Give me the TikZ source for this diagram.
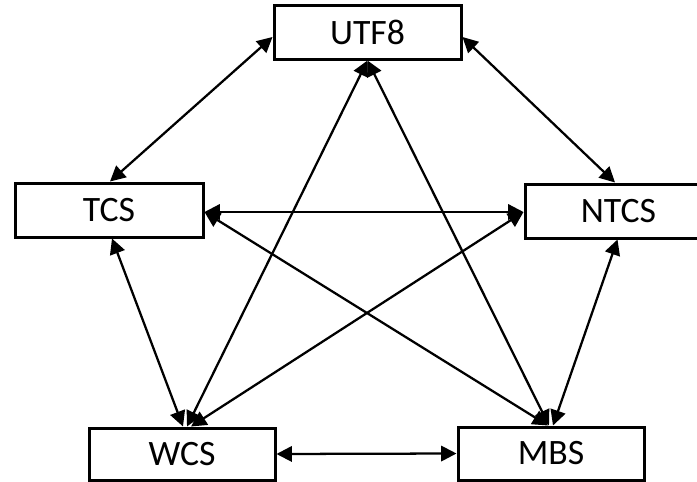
\documentclass[tikz,border=0pt]{standalone}
\usepackage{fontspec}
\setmainfont{Carlito}
\usetikzlibrary{arrows.meta,calc}
\begin{document}
\begin{tikzpicture}[x=0.75pt,y=-0.75pt,
 box/.style={draw,line width=2.25pt,fill=white,minimum height=40.5pt,inner sep=0pt,font=\fontsize{26.8}{30}\selectfont},
 link/.style={line width=1.7pt,{Triangle[length=11.5pt,width=11.5pt]}-{Triangle[length=11.5pt,width=11.5pt]}}]
\useasboundingbox (0,0) rectangle (697,482);
\node[box,minimum width=140.25pt] (UTF8) at (367.5,32) {UTF8};
\node[box,minimum width=141pt] (TCS) at (109,210) {TCS};
\node[box,minimum width=140.25pt] (NTCS) at (618.5,211) {NTCS};
\node[box,minimum width=139.5pt,minimum height=39pt] (WCS) at (182,454) {WCS};
\node[box,minimum width=139.5pt,minimum height=39.75pt] (MBS) at (551,453.5) {MBS};
\draw[link] ($(UTF8.west)+(0,5)$) -- ($(TCS.north)+(1,0)$);
\draw[link] ($(UTF8.east)+(0,5)$) -- ($(NTCS.north)+(-3.5,0)$);
\draw[link] ($(TCS.east)+(0,2)$) -- ($(NTCS.west)+(0,1)$);
\draw[link] ($(TCS.south)+(3,0)$) -- ($(WCS.north)+(1,0)$);
\draw[link] ($(NTCS.south)+(-1,0)$) -- ($(MBS.north)+(2,0)$);
\draw[link] (WCS.east) -- (MBS.west);
\draw[link] (UTF8.south) -- ($(WCS.north)+(5,0)$);
\draw[link] (UTF8.south) -- ($(MBS.north)+(-2,0)$);
\draw[link] ($(TCS.east)+(0,2)$) -- ($(MBS.north)+(-3,0)$);
\draw[link] ($(NTCS.west)+(0,1)$) -- ($(WCS.north)+(9,0)$);
\end{tikzpicture}
\end{document}
